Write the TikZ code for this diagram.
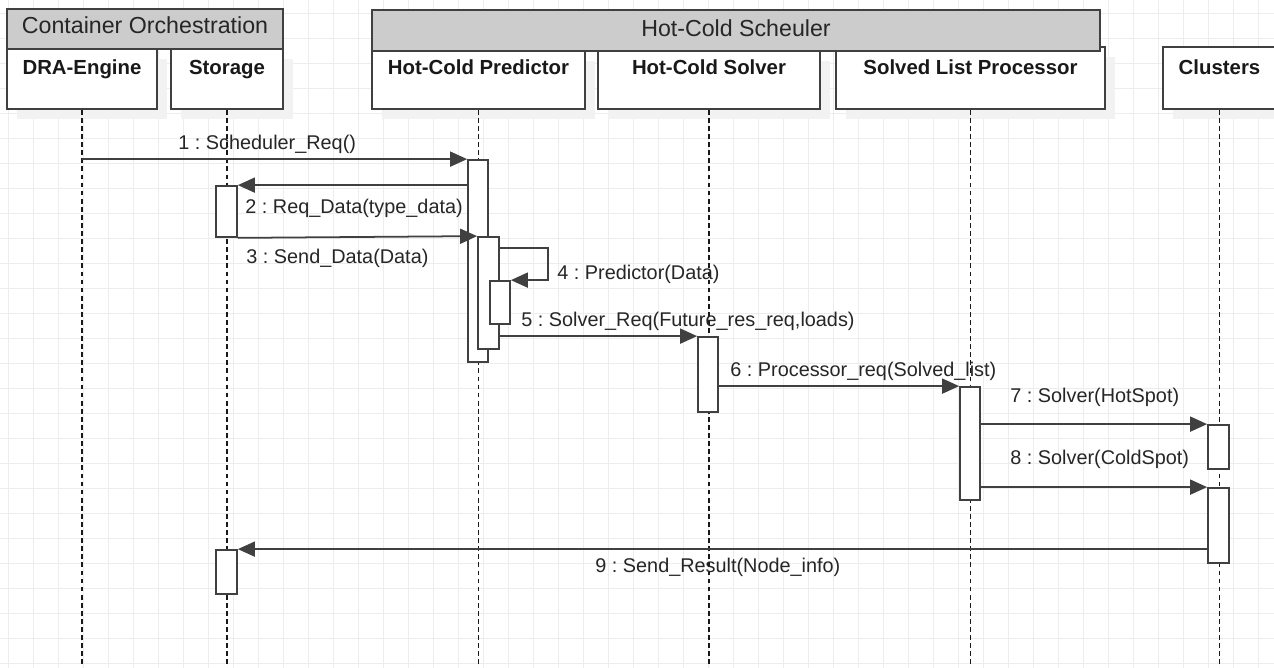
\documentclass[tikz,border=0pt]{standalone}
\usepackage{fontspec}
\setmainfont{Liberation Sans}
\usetikzlibrary{arrows.meta,positioning,fit,shadows}
\frenchspacing

\tikzset{
  gridln/.style={black!7, line width=0.5pt},
  grp/.style={draw=black!75, line width=1pt, fill=gray!40, inner sep=0pt},
  headbox/.style={draw=black!75, line width=1pt, fill=white, inner sep=0pt,
    drop shadow={shadow xshift=0.2cm, shadow yshift=-0.2cm, opacity=1, fill=black!5}},
  act/.style={draw=black!75, line width=1pt, fill=white, inner sep=0pt},
  life/.style={black!90, line width=0.7pt, dash pattern=on 2.7pt off 1.9pt},
  msg/.style={black!75, line width=1pt, -{Triangle[length=0.34cm, width=0.3cm]}},
  grptxt/.style={font=\fontsize{13.2}{15}\selectfont, text=black!85, anchor=base},
  headtxt/.style={font=\fontsize{11.6}{14}\selectfont\bfseries, text=black!90, anchor=base},
  msgtxt/.style={font=\fontsize{11.3}{13}\selectfont, text=black!85, anchor=base west, inner sep=0pt}
}

\begin{document}
\begin{tikzpicture}[x=0.02cm, y=-0.02cm]
  \useasboundingbox (0,0) rectangle (1274,668);
  \fill[white] (0,0) rectangle (1274,668);

  % background grid
  \foreach \gx in {8,33,...,1274} \draw[gridln] (\gx,0) -- (\gx,668);
  \foreach \gy in {13,38,...,668} \draw[gridln] (0,\gy) -- (1274,\gy);

  % lifeline heads
  \node[headbox, fit={(7,49)(157,109)}] (dra) {};
  \node[headbox, fit={(171,49)(283,109)}] (sto) {};
  \node[headbox, fit={(372,51)(585,109)}] (pred) {};
  \node[headbox, fit={(598,51)(820,109)}] (solv) {};
  \node[headbox, fit={(836,47)(1105,109)}] (proc) {};
  \node[headbox, fit={(1163,47)(1276,109)}] (clus) {};

  \node[headtxt] (dratxt) at (dra.north |- 0,75) {DRA-Engine};
  \node[headtxt] (stotxt) at (sto.north |- 0,75) {Storage};
  \node[headtxt] (predtxt) at (pred.north |- 0,75) {Hot-Cold Predictor};
  \node[headtxt] (solvtxt) at (solv.north |- 0,75) {Hot-Cold Solver};
  \node[headtxt] (proctxt) at (proc.north |- 0,75) {Solved List Processor};
  \node[headtxt] (clustxt) at (clus.north |- 0,75) {Clusters};

  % groups
  \node[grp, fit={(7,9)(283,49)}] (orch) {};
  \node[grptxt] (orchtxt) at (orch.center |- 0,34) {Container Orchestration};
  \node[grp, fit={(372,10)(1100,51)}] (sched) {};
  \node[grptxt] (schedtxt) at (sched.center |- 0,37) {Hot-Cold Scheuler};

  % lifelines
  \foreach \h in {dra,sto,pred,solv,proc,clus}
    \draw[life] (\h.south) -- (\h.south |- 0,668);

  % activations
  \node[act, fit={(468,160)(488,362)}] (p1) {};
  \node[act, fit={(216,186)(237,237)}] (st1) {};
  \node[act, fit={(478,237)(499,349)}] (p2) {};
  \node[act, fit={(490,281)(510,324)}] (p3) {};
  \node[act, fit={(698,337)(718,412)}] (sv) {};
  \node[act, fit={(960,387)(980,500)}] (pr) {};
  \node[act, fit={(1208,425)(1229,469)}] (c1) {};
  \node[act, fit={(1208,488)(1229,563)}] (c2) {};
  \node[act, fit={(216,550)(237,594)}] (st2) {};

  % messages
  \coordinate (s1) at (dra.south |- p1.north);
  \draw[msg] (s1) -- (p1.north west);
  \draw[msg] (st1.north east -| p1.west) -- (st1.north east);
  \draw[msg] (st1.south east) -- (p2.north west);
  \draw[msg] (p2.north east) ++(0,12) -- ++(48,0) |- (p3.north east);
  \draw[msg] (p2.east |- sv.north) -- (sv.north west);
  \draw[msg] (sv.east |- pr.north) -- (pr.north west);
  \draw[msg] (pr.east |- c1.north) -- (c1.north west);
  \draw[msg] (pr.east |- c2.north) -- (c2.north west);
  \draw[msg] (c2.west |- st2.north) -- (st2.north east);

  \node[msgtxt] (m1) at (178,150) {1 : Scheduler\_Req()};
  \node[msgtxt] (m2) at (245,214) {2 : Req\_Data(type\_data)};
  \node[msgtxt] (m3) at (246,264) {3 : Send\_Data(Data)};
  \node[msgtxt] (m4) at (557,280) {4 : Predictor(Data)};
  \node[msgtxt] (m5) at (521,327) {5 : Solver\_Req(Future\_res\_req,loads)};
  \node[msgtxt] (m6) at (730,377) {6 : Processor\_req(Solved\_list)};
  \node[msgtxt] (m7) at (1010,403) {7 : Solver(HotSpot)};
  \node[msgtxt] (m8) at (1010,464) {8 : Solver(ColdSpot)};
  \node[msgtxt] (m9) at (595,572) {9 : Send\_Result(Node\_info)};
\end{tikzpicture}
\end{document}
